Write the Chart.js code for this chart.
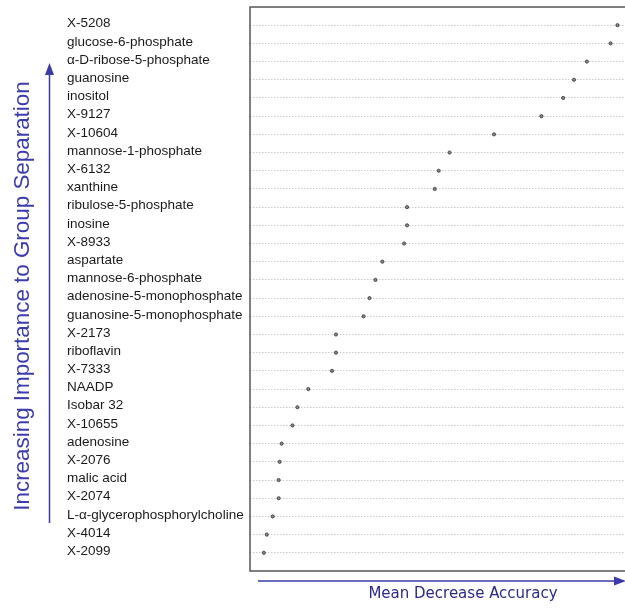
<!DOCTYPE html>
<html>
<head>
<meta charset="utf-8">
<script src="https://cdn.jsdelivr.net/npm/chart.js@4/dist/chart.umd.min.js"></script>
<style>
  html, body { margin: 0; padding: 0; background: #fff; overflow: hidden; width: 625px; height: 611px; }
  canvas { display: block; }
</style>
</head>
<body>
<canvas id="c" width="645" height="611"></canvas>
<script>
// Categories, top (most important) to bottom
const labels = [
  'X-5208', 'glucose-6-phosphate', 'α-D-ribose-5-phosphate', 'guanosine', 'inositol',
  'X-9127', 'X-10604', 'mannose-1-phosphate', 'X-6132', 'xanthine',
  'ribulose-5-phosphate', 'inosine', 'X-8933', 'aspartate', 'mannose-6-phosphate',
  'adenosine-5-monophosphate', 'guanosine-5-monophosphate', 'X-2173', 'riboflavin', 'X-7333',
  'NAADP', 'Isobar 32', 'X-10655', 'adenosine', 'X-2076',
  'malic acid', 'X-2074', 'L-α-glycerophosphorylcholine', 'X-4014', 'X-2099'
];
// Mean decrease accuracy (arbitrary units)
const meanDecreaseAccuracy = [
  37.2, 36.5, 34.1, 32.8, 31.7,
  29.5, 24.7, 20.2, 19.1, 18.7,
  15.9, 15.9, 15.6, 13.4, 12.7,
  12.1, 11.5, 8.7, 8.7, 8.3,
  5.9, 4.8, 4.3, 3.2, 3.0,
  2.9, 2.9, 2.3, 1.7, 1.4
];
const yTitle = 'Increasing Importance to Group Separation';
const xTitle = 'Mean Decrease Accuracy';

const points = meanDecreaseAccuracy.map((v, i) => ({ x: v, y: i + 1 }));

const decor = {
  id: 'decor',
  afterDraw(chart) {
    const ctx = chart.ctx;
    const a = chart.chartArea;
    ctx.save();
    // plot box
    ctx.strokeStyle = '#555';
    ctx.lineWidth = 1.5;
    ctx.setLineDash([]);
    ctx.strokeRect(a.left, a.top, a.right - a.left, a.bottom - a.top);
    // y arrow
    const blue = 'rgb(58,58,170)';
    ctx.strokeStyle = blue; ctx.fillStyle = blue; ctx.lineWidth = 1.5;
    const ax = 49.5;
    ctx.beginPath(); ctx.moveTo(ax, 523); ctx.lineTo(ax, 72); ctx.stroke();
    ctx.beginPath(); ctx.moveTo(ax, 63); ctx.lineTo(ax - 4.5, 75); ctx.lineTo(ax + 4.5, 75); ctx.closePath(); ctx.fill();
    // x arrow
    const ay = 581;
    ctx.beginPath(); ctx.moveTo(258, ay); ctx.lineTo(616, ay); ctx.stroke();
    ctx.beginPath(); ctx.moveTo(626, ay); ctx.lineTo(614, ay - 4.5); ctx.lineTo(614, ay + 4.5); ctx.closePath(); ctx.fill();
    // y title
    ctx.save();
    ctx.translate(23, 296);
    ctx.rotate(-Math.PI / 2);
    ctx.font = '22.4px "Liberation Sans", Arial, sans-serif';
    ctx.fillStyle = 'rgb(60,60,175)';
    ctx.textAlign = 'center'; ctx.textBaseline = 'middle';
    ctx.fillText(yTitle, 0, 0);
    ctx.restore();
    // x title
    ctx.font = '15px "DejaVu Sans", Verdana, sans-serif';
    ctx.fillStyle = 'rgb(42,42,140)';
    ctx.textAlign = 'center'; ctx.textBaseline = 'middle';
    ctx.fillText(xTitle, 463, 594);
    ctx.restore();
  }
};

new Chart(document.getElementById('c'), {
  type: 'scatter',
  data: {
    datasets: [{
      data: points,
      pointRadius: 1.6,
      pointBackgroundColor: '#888',
      pointBorderColor: '#333',
      pointBorderWidth: 0.8
    }]
  },
  options: {
    responsive: false,
    devicePixelRatio: 1,
    animation: false,
    layout: { padding: { left: 67, top: 7, bottom: 40, right: 0 } },
    plugins: { legend: { display: false }, tooltip: { enabled: false } },
    scales: {
      x: { type: 'linear', min: 0, max: 39.5, display: false },
      y: {
        type: 'linear', min: 0, max: labels.length + 1, reverse: true,
        afterBuildTicks(scale) { scale.ticks = labels.map((_, i) => ({ value: i + 1 })); },
        afterFit(scale) { scale.width = 183; scale.paddingTop = 0; scale.paddingBottom = 0; },
        ticks: {
          crossAlign: 'far', padding: 7, color: '#1a1a1a', autoSkip: false, labelOffset: -1.5,
          font: { family: '"Liberation Sans", Arial, sans-serif', size: 13.5 },
          callback: (v) => labels[v - 1] ?? ''
        },
        grid: { color: '#cccccc', lineWidth: 1, drawTicks: false, drawOnChartArea: true },
        border: { display: false, dash: [1.5, 1.5] }
      }
    }
  },
  plugins: [decor]
});
</script>
</body>
</html>
